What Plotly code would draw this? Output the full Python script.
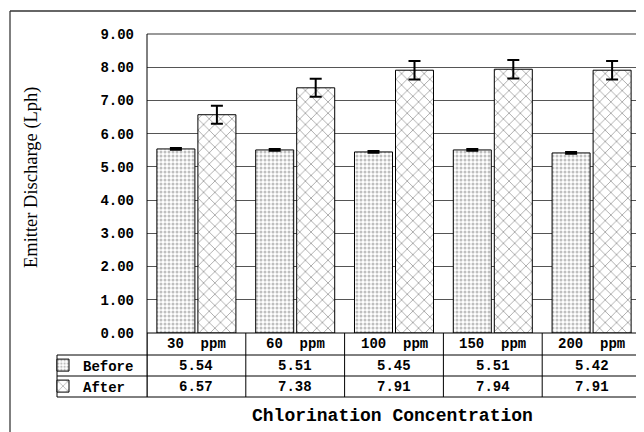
import plotly.graph_objects as go

categories = ["30 ppm", "60 ppm", "100 ppm", "150 ppm", "200 ppm"]
before = [5.54, 5.51, 5.45, 5.51, 5.42]
after = [6.57, 7.38, 7.91, 7.94, 7.91]
before_err = [0.02, 0.02, 0.02, 0.02, 0.02]
after_err = [0.27, 0.27, 0.28, 0.28, 0.28]
series_names = ["Before", "After"]
y_ticks = [0, 1, 2, 3, 4, 5, 6, 7, 8, 9]

MONO = "Liberation Mono"
SERIF = "Liberation Serif"
OFF = 8  # page body margin

fig = go.Figure()
fig.add_trace(go.Bar(
    x=categories, y=before, name=series_names[0], legend="legend",
    marker=dict(color="white", line=dict(color="black", width=1),
                pattern=dict(shape=".", size=4, solidity=0.45, fgcolor="#808080", bgcolor="white")),
    error_y=dict(type="data", array=before_err, color="black", thickness=2.5, width=6),
))
fig.add_trace(go.Bar(
    x=categories, y=after, name=series_names[1], legend="legend2",
    marker=dict(color="white", line=dict(color="black", width=1),
                pattern=dict(shape="x", size=8, solidity=0.15, fgcolor="black", bgcolor="white")),
    error_y=dict(type="data", array=after_err, color="black", thickness=2, width=6),
))

# paper-coordinate helpers (plot area on page: 147..641 x, 34..333 y)
def px_x(px):
    return (px - 147) / 494.0

def px_y(py):
    return (333 - py) / 299.0

row_cat = px_y(344)
row_b = px_y(365.5)
row_a = px_y(386.5)

cell_font = dict(family=MONO, size=14, color="black", weight="bold")
annotations = []
for i, c in enumerate(categories):
    annotations.append(dict(x=c, xref="x", y=row_cat, yref="paper", text=c.replace(" ", "\u00a0 "),
                            xanchor="center", yanchor="middle", showarrow=False, font=cell_font))
    annotations.append(dict(x=c, xref="x", y=row_b, yref="paper", text=f"{before[i]:.2f}",
                            xanchor="center", yanchor="middle", showarrow=False, font=cell_font))
    annotations.append(dict(x=c, xref="x", y=row_a, yref="paper", text=f"{after[i]:.2f}",
                            xanchor="center", yanchor="middle", showarrow=False, font=cell_font))

annotations.append(dict(x=px_x(392.5), y=px_y(416), xref="paper", yref="paper",
                        xanchor="center", yanchor="middle",
                        text="Chlorination Concentration", showarrow=False,
                        font=dict(family=MONO, size=18, color="black", weight="bold")))
annotations.append(dict(x=px_x(31), y=px_y(177), xref="paper", yref="paper",
                        xanchor="center", yanchor="middle",
                        text="Emitter Discharge (Lph)", showarrow=False, textangle=-90,
                        font=dict(family=SERIF, size=18.5, color="black")))

shapes = []
def line(x0, y0, x1, y1, xref="paper", color="black", width=1):
    shapes.append(dict(type="line", x0=x0, y0=y0, x1=x1, y1=y1, xref=xref, yref="paper",
                       line=dict(color=color, width=width), layer="above"))

# table horizontal lines
for py in (355, 376, 397):
    line(px_x(57), px_y(py), 1.0, px_y(py))
# table vertical lines
line(px_x(57), px_y(355), px_x(57), px_y(397))
for k in range(len(categories) + 1):
    line(k - 0.5, px_y(333), k - 0.5, px_y(397), xref="x")
# plot border top/right (gray)
line(0, 1, 1, 1, color="#777777", width=1.5)
line(1, 1, 1, px_y(333), color="#777777", width=1.5)
# left axis & bottom
line(0, 1, 0, px_y(397))
line(0, 0, 1, 0)
# outer chart border
line(px_x(10), px_y(11), px_x(10), px_y(440), color="#555555", width=1.5)
line(px_x(10), px_y(11), px_x(650), px_y(11), color="#333333", width=1.5)

legend_font = dict(family=MONO, size=14, color="black", weight="bold")
fig.update_layout(
    width=644 - OFF, height=432 - OFF,
    margin=dict(l=147 - OFF, r=3, t=34 - OFF, b=99),
    paper_bgcolor="white", plot_bgcolor="white",
    barmode="group", bargap=0.17, bargroupgap=0.073,
    annotations=annotations, shapes=shapes,
    showlegend=True,
    legend=dict(x=px_x(43), y=row_b, xanchor="left", yanchor="middle", bgcolor="rgba(0,0,0,0)",
                font=legend_font, borderwidth=0, itemwidth=30),
    legend2=dict(x=px_x(43), y=row_a, xanchor="left", yanchor="middle", bgcolor="rgba(0,0,0,0)",
                 font=legend_font, borderwidth=0, itemwidth=30),
    xaxis=dict(type="category", range=[-0.5, 4.5], showticklabels=False, showgrid=False,
               showline=False, zeroline=False, ticks=""),
    yaxis=dict(range=[0, 9], tickvals=y_ticks, tickformat=".2f", showgrid=True,
               gridcolor="#555555", gridwidth=1, zeroline=False, showline=False, ticks="",
               ticklabelstandoff=12,
               tickfont=dict(family=MONO, size=14, color="black", weight="bold")),
)

fig.write_html("out.html")
